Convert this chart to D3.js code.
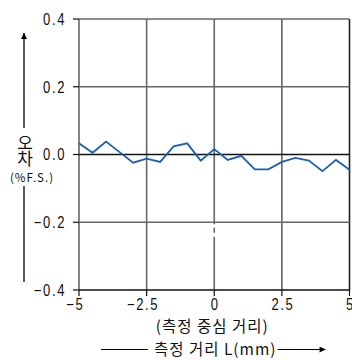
<!DOCTYPE html>
<html><head><meta charset="utf-8">
<script src="https://cdn.jsdelivr.net/npm/d3@7"></script>
<style>
html,body{margin:0;padding:0;background:#fff;}
.num{font-family:"Liberation Sans",Arial,sans-serif;font-size:16.3px;fill:#111;letter-spacing:2px;}
.ko{font-family:"Noto Sans CJK KR","Noto Sans",sans-serif;fill:#111;}
</style></head>
<body>
<svg id="c" width="352" height="360"></svg>
<script>
const xValues = [-5,-4.5,-4,-3.5,-3,-2.5,-2,-1.5,-1,-0.5,0,0.5,1,1.5,2,2.5,3,3.5,4,4.5,5];
const errValues = [0.033,0.005,0.038,0.007,-0.024,-0.012,-0.022,0.024,0.033,-0.018,0.016,-0.016,-0.004,-0.044,-0.044,-0.022,-0.010,-0.018,-0.049,-0.016,-0.045];
const xTicks = [-5,-2.5,0,2.5,5];
const yTicks = [-0.4,-0.2,0,0.2,0.4];
const yLabel = "오차";
const yUnit = "(%F.S.)";
const xTitle1 = "(측정 중심 거리)";
const xTitle2 = "측정 거리 L(mm)";

const svg = d3.select("#c");
const x = d3.scaleLinear().domain([-5,5]).range([79,349.5]);
const y = d3.scaleLinear().domain([-0.4,0.4]).range([290,19]);
const fx = v => v===0 ? "0" : (v<0?"−":"") + d3.format("")(Math.abs(v));
const fy = v => (v<0?"−":"") + d3.format(".1f")(Math.abs(v));
const SX = 0.8;

const defs = svg.append("defs");
defs.append("marker").attr("id","ah").attr("viewBox","0 0 10 10").attr("refX",10).attr("refY",5)
  .attr("markerWidth",10).attr("markerHeight",6).attr("markerUnits","userSpaceOnUse").attr("orient","auto")
  .append("path").attr("d","M0,0L10,5L0,10Z").attr("fill","#000");

const g = svg.append("g");
// vertical grid
xTicks.forEach(t=>{
  const stroke = t===5 ? "#222" : "#666";
  if (t===0) {
    const yb = y(-0.2);
    [[y(0.4), yb+2],[yb+5.5, yb+10.5],[yb+14.5, y(-0.4)]].forEach(s=>{
      g.append("line").attr("x1",x(t)).attr("x2",x(t)).attr("y1",s[0]).attr("y2",s[1])
        .attr("stroke",stroke).attr("stroke-width",1.6);
    });
  } else {
    g.append("line").attr("x1",x(t)).attr("x2",x(t)).attr("y1",y(0.4)).attr("y2",y(-0.4))
      .attr("stroke",stroke).attr("stroke-width",1.6);
  }
});
// horizontal grid
yTicks.forEach(t=>{
  const dark = (t===0 || t===-0.4);
  g.append("line").attr("x1",x(-5)).attr("x2",x(5)).attr("y1",y(t)).attr("y2",y(t))
    .attr("stroke",dark?"#111":"#666").attr("stroke-width",1.6);
});
// y ticks & labels
yTicks.forEach(t=>{
  g.append("line").attr("x1",x(-5)-6).attr("x2",x(-5)).attr("y1",y(t)).attr("y2",y(t)).attr("stroke","#111").attr("stroke-width",1.2);
  g.append("text").attr("class","num")
    .attr("transform",`translate(${x(-5)-13},${y(t)}) scale(${SX},1)`).attr("dy","0.36em")
    .attr("text-anchor","end").text(fy(t));
});
// x ticks & labels
const tmp = g.append("text").attr("class","num").text("−");
const mw = tmp.node().getComputedTextLength()*SX; tmp.remove();
xTicks.forEach(t=>{
  g.append("line").attr("x1",x(t)).attr("x2",x(t)).attr("y1",y(-0.4)).attr("y2",y(-0.4)+6).attr("stroke","#111").attr("stroke-width",1.2);
  const off = t<0 ? -mw/2 : 0;
  g.append("text").attr("class","num")
    .attr("transform",`translate(${x(t)+off+1},${y(-0.4)+19.5}) scale(${SX},1)`)
    .attr("text-anchor","middle").text(fx(t));
});
// data line
g.append("path").datum(xValues.map((v,i)=>[v,errValues[i]]))
  .attr("d", d3.line().x(d=>x(d[0])).y(d=>y(d[1])))
  .attr("fill","none").attr("stroke","#1d5fae").attr("stroke-width",1.8).attr("stroke-linejoin","miter");

// y axis title with arrow
const ax = 24;
g.append("line").attr("x1",ax).attr("x2",ax).attr("y1",y(-0.4)-8).attr("y2",186).attr("stroke","#000").attr("stroke-width",1.3);
g.append("line").attr("x1",ax).attr("x2",ax).attr("y1",128).attr("y2",y(0.4)+14).attr("stroke","#000").attr("stroke-width",1.3).attr("marker-end","url(#ah)");
g.append("text").attr("class","ko").attr("x",ax+1).attr("y",134)
  .style("writing-mode","vertical-rl").style("glyph-orientation-vertical","0")
  .style("font-size","17px").style("letter-spacing","-1px").text(yLabel);
g.append("text").attr("class","ko").attr("x",ax+8).attr("y",182).attr("text-anchor","middle")
  .style("font-size","11.5px").style("letter-spacing","1px").text(yUnit);

// x titles
const cx = x(0);
g.append("text").attr("class","ko").attr("x",cx-2).attr("y",332).attr("text-anchor","middle")
  .style("font-size","15.5px").style("letter-spacing","1px").text(xTitle1);
const t2 = g.append("text").attr("class","ko").attr("x",cx+1).attr("y",355).attr("text-anchor","middle")
  .style("font-size","15.5px").style("letter-spacing","1px").text(xTitle2);
const bb = t2.node().getBBox();
g.append("line").attr("x1",bb.x-53).attr("x2",bb.x-6).attr("y1",349.5).attr("y2",349.5).attr("stroke","#000").attr("stroke-width",1.2);
g.append("line").attr("x1",bb.x+bb.width+1).attr("x2",bb.x+bb.width+49).attr("y1",349.5).attr("y2",349.5).attr("stroke","#000").attr("stroke-width",1.2).attr("marker-end","url(#ah)");
</script>
</body></html>
